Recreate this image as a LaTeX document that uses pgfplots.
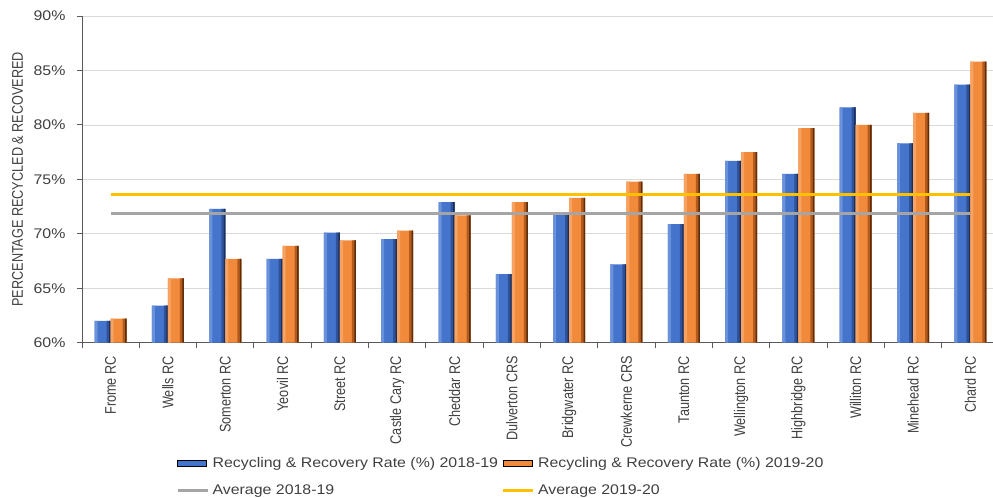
\documentclass[border=0pt]{standalone}
\usepackage{fontspec}
\setmainfont{Liberation Sans}
\newfontfamily\hfont{Liberation Sans}[FakeStretch=1.14]
\newfontfamily\rfont{Liberation Sans}[FakeStretch=0.82]
\usepackage{pgfplots}
\usepackage{pgfplotstable}
\pgfplotsset{compat=1.18}
\definecolor{txt}{HTML}{404040}
\definecolor{gridc}{HTML}{D9D9D9}
\definecolor{axc}{HTML}{595959}
\definecolor{blueL}{HTML}{6A92DA}
\definecolor{blueM}{HTML}{4574CC}
\definecolor{blueS}{HTML}{2F5299}
\definecolor{blueD}{HTML}{1B2F5C}
\definecolor{orangeL}{HTML}{F5A262}
\definecolor{orangeM}{HTML}{F28A3C}
\definecolor{orangeS}{HTML}{B35A1D}
\definecolor{orangeD}{HTML}{5E2E0C}
\definecolor{avgA}{HTML}{A5A5A5}
\definecolor{avgB}{HTML}{FFC000}
\pgfplotstableread{
x  r1819 r1920
0  62.0  62.2
1  63.4  65.9
2  72.3  67.7
3  67.7  68.9
4  70.1  69.4
5  69.5  70.3
6  72.9  71.7
7  66.3  72.9
8  71.8  73.3
9  67.2  74.8
10 70.9  75.5
11 76.7  77.5
12 75.5  79.7
13 81.6  80.0
14 78.3  81.1
15 83.7  85.8
}\rates
\pgfplotsset{
  barleg/.style={legend image code/.code={\draw[##1] (0bp,-3bp) rectangle (29bp,3bp);}},
  lineleg/.style={legend image code/.code={\draw[##1] (0bp,0bp) -- (30bp,0bp);}},
  strip/.style={ybar, draw=none, forget plot},
}
\begin{document}
\begin{tikzpicture}
\begin{axis}[
  scale only axis, width=917bp, height=326.7bp,
  at={(0,0)}, anchor=south west,
  xmin=-0.5, xmax=15.5, ymin=60, ymax=90,
  axis x line*=bottom, axis y line*=left,
  axis line style={color=axc, line width=0.9bp},
  tick align=outside, major tick length=5bp, minor tick length=5bp,
  tick style={color=axc, line width=0.9bp},
  ytick={60,65,...,90},
  yticklabels={60\%,65\%,70\%,75\%,80\%,85\%,90\%},
  yticklabel style={font=\hfont\fontsize{14}{16}\selectfont, text=txt, xshift=-8bp},
  xtick={0,...,15},
  xticklabels={Frome RC,Wells RC,Somerton RC,Yeovil RC,Street RC,Castle Cary RC,Cheddar RC,Dulverton CRS,Bridgwater RC,Crewkerne CRS,Taunton RC,Wellington RC,Highbridge RC,Williton RC,Minehead RC,Chard RC},
  xticklabel style={rotate=90, anchor=east, xshift=-5bp, font=\rfont\fontsize{15.5}{18}\selectfont, text=txt},
  major x tick style={draw=none},
  minor xtick={-0.5,0.5,...,15.5},
  ymajorgrids, major grid style={color=gridc, line width=0.8bp},
  ylabel={PERCENTAGE RECYCLED \& RECOVERED},
  ylabel style={at={(axis description cs:0,0.5)}, anchor=center, yshift=64.5bp, font=\rfont\fontsize{15.5}{18}\selectfont, text=txt},
  legend columns=2,
  legend cell align=left,
  legend style={at={(0.4575,0)}, anchor=center, yshift=-134.3bp, draw=none, fill=none,
    font=\hfont\fontsize{14}{16}\selectfont, text=txt, column sep=0bp, row sep=9bp,
    nodes={inner sep=3.5bp}},
]
% 2018-19 bars (base + shading strips)
\addplot[ybar, bar width=16bp, bar shift=-8bp, draw=none, fill=blueM, barleg]
  table[x=x, y=r1819] {\rates};
\addlegendentry{Recycling \& Recovery Rate (\%) 2018-19}
\addplot[strip, bar width=3bp, bar shift=-14.5bp, fill=blueL] table[x=x, y=r1819] {\rates};
\addplot[strip, bar width=4bp, bar shift=-2bp, fill=blueS] table[x=x, y=r1819] {\rates};
\addplot[strip, bar width=1.5bp, bar shift=-0.75bp, fill=blueD] table[x=x, y=r1819] {\rates};
% 2019-20 bars
\addplot[ybar, bar width=16bp, bar shift=8bp, draw=none, fill=orangeM, barleg]
  table[x=x, y=r1920] {\rates};
\addlegendentry{Recycling \& Recovery Rate (\%) 2019-20}
\addplot[strip, bar width=3bp, bar shift=1.5bp, fill=orangeL] table[x=x, y=r1920] {\rates};
\addplot[strip, bar width=4bp, bar shift=14bp, fill=orangeS] table[x=x, y=r1920] {\rates};
\addplot[strip, bar width=1.5bp, bar shift=15.25bp, fill=orangeD] table[x=x, y=r1920] {\rates};
% averages
\addplot[sharp plot, color=avgA, line width=3bp, mark=none, lineleg]
  coordinates {(0,71.9) (15,71.9)};
\addlegendentry{Average 2018-19}
\addplot[sharp plot, color=avgB, line width=3bp, mark=none, lineleg]
  coordinates {(0,73.6) (15,73.6)};
\addlegendentry{Average 2019-20}
\end{axis}
\pgfresetboundingbox
\path[use as bounding box] (-82bp,-155.3bp) rectangle (911bp,342.7bp);
\end{tikzpicture}
\end{document}
